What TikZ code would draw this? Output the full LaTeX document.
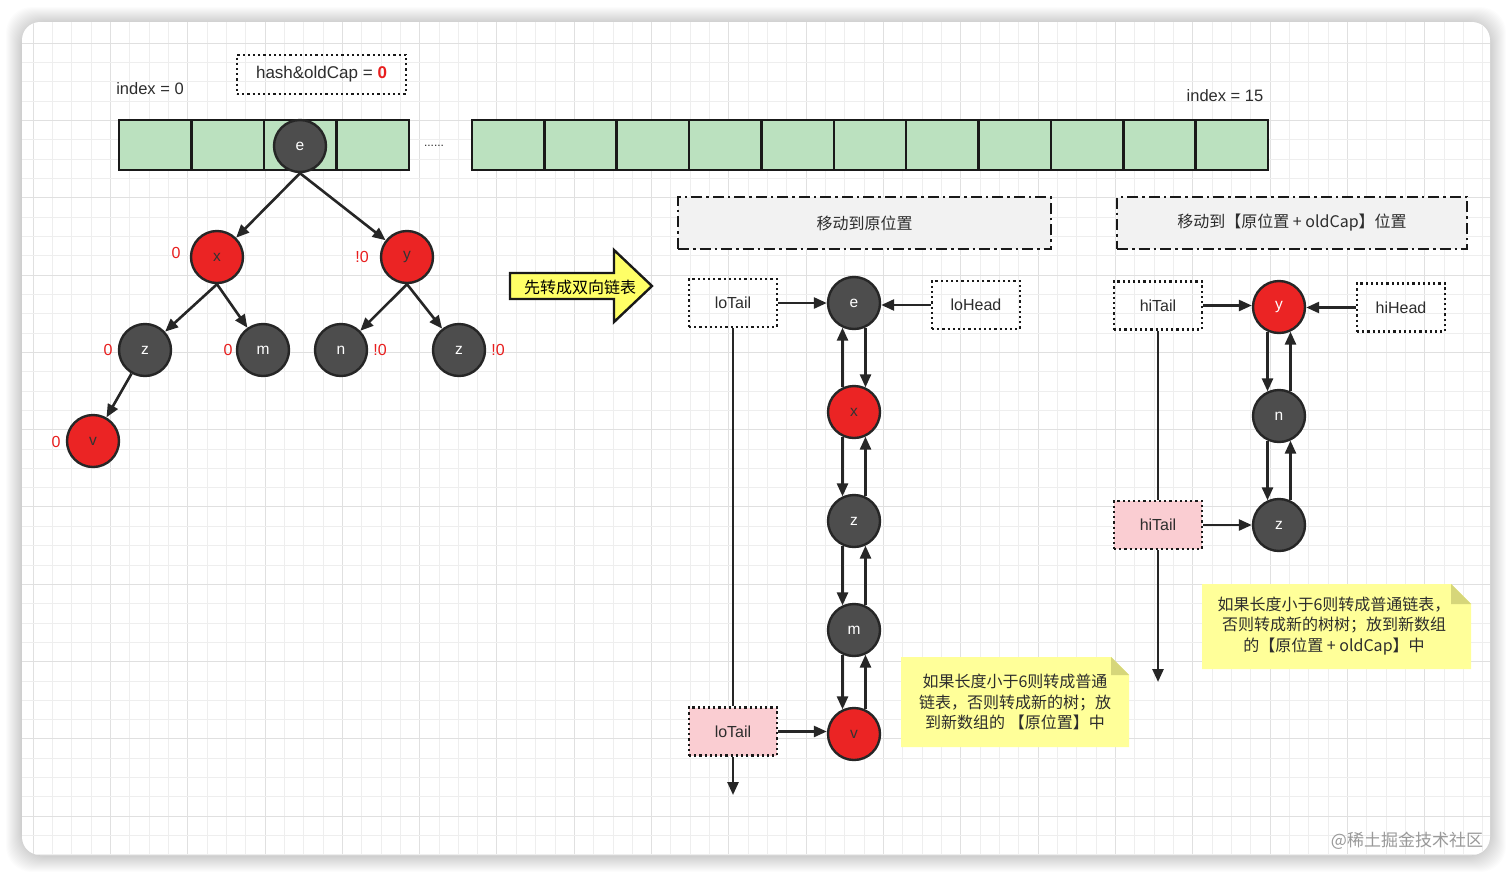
\documentclass[tikz,border=0pt]{standalone}
\usepackage{fontspec}
\setmainfont{Liberation Sans}
\newfontfamily\cjk{Noto Sans CJK SC}
\usetikzlibrary{arrows.meta,calc}
\definecolor{gridminor}{RGB}{238,238,238}
\definecolor{gridmajor}{RGB}{224,224,224}
\definecolor{cellg}{RGB}{187,225,191}
\definecolor{nodered}{RGB}{235,36,36}
\definecolor{nodedark}{RGB}{77,77,77}
\definecolor{hdrg}{RGB}{242,242,242}
\definecolor{pinkc}{RGB}{250,205,210}
\definecolor{notey}{RGB}{255,255,153}
\definecolor{foldc}{RGB}{214,214,122}
\definecolor{arrowy}{RGB}{255,255,102}
\definecolor{labred}{RGB}{232,30,30}
\definecolor{txtc}{RGB}{45,45,45}
\begin{document}
\begin{tikzpicture}[x=1pt,y=-1pt,
  dnode/.style={circle, draw=black!85, line width=2.4pt, fill=nodedark, minimum size=52pt, inner sep=0pt, text=white, font=\fontsize{15.5}{17}\selectfont},
  rnode/.style={dnode, fill=nodered, text=black!80},
  rnodew/.style={dnode, fill=nodered, text=white},
  ptr/.style={draw=black!90, line width=2.5pt, dash pattern=on 2.2pt off 3pt, minimum width=88pt, minimum height=48pt, inner sep=0pt, font=\fontsize{16}{19}\selectfont, text=txtc},
  ptrpink/.style={ptr, fill=pinkc},
  cell/.style={draw=black!90, line width=2.5pt, fill=cellg, minimum width=72.4pt, minimum height=50pt, inner sep=0pt},
  conn/.style={line width=2.6pt, draw=black!85, -{Triangle[length=13pt,width=11pt]}},
  plain/.style={line width=2.6pt, draw=black!85},
  zlab/.style={text=labred, font=\fontsize{16}{19}\selectfont},
  txt/.style={text=txtc, font=\fontsize{16.5}{19}\selectfont},
  hdr/.style={draw=black!90, line width=2.8pt, dash pattern=on 11pt off 4pt on 2.5pt off 4pt, fill=hdrg, minimum height=52pt, text=txtc, font=\cjk\fontsize{16}{19}\selectfont},
  notetxt/.style={align=center, text=txtc, font=\cjk\fontsize{16}{20.5}\selectfont}
]
\useasboundingbox (0,0) rectangle (1512,876);
\fill[white] (0,0) rectangle (1512,876);
% shadow
\foreach \i in {1,...,16} {
  \fill[black, opacity=0.011, rounded corners=26pt] ({22-\i},{22-\i+1}) rectangle ({1490+\i},{855+\i+1});
}
\fill[white, rounded corners=18pt] (22,22) rectangle (1490,855);
\begin{scope}
  \clip[rounded corners=18pt] (22,22) rectangle (1490,855);
  \foreach \k in {0,...,75} {
    \pgfmathtruncatemacro{\m}{mod(\k,4)}
    \ifnum\m=0 \draw[gridmajor, line width=0.9pt] ({33+\k*19.33},22) -- ({33+\k*19.33},855);
    \else \draw[gridminor, line width=0.8pt] ({33+\k*19.33},22) -- ({33+\k*19.33},855); \fi
  }
  \foreach \k in {0,...,42} {
    \pgfmathtruncatemacro{\m}{mod(\k,4)}
    \ifnum\m=0 \draw[gridmajor, line width=0.9pt] (22,{43+\k*19.33}) -- (1490,{43+\k*19.33});
    \else \draw[gridminor, line width=0.8pt] (22,{43+\k*19.33}) -- (1490,{43+\k*19.33}); \fi
  }
\end{scope}

% arrays
\foreach \i in {0,...,3} { \node[cell] (a\i) at ({155.25+72.5*\i},145) {}; }
\foreach \i in {0,...,10} { \node[cell] (b\i) at ({508.2+72.36*\i},145) {}; }
\node[txt] (i0) at (150,89) {index = 0};
\node[txt] (i15) at (1225,96) {index = 15};
\node[ptr, minimum width=169pt, minimum height=39pt, font=\fontsize{17}{19}\selectfont] (hash) at (321.5,74.5) {hash\&oldCap = \textcolor{labred}{\textbf{0}}};
\node[text=txtc, font=\fontsize{12}{14}\selectfont] (dots) at (434,146) {......};

% tree
\node[dnode] (e) at (300,146) {e};
\node[rnode] (x) at (217,257) {x};
\node[rnode] (y) at (407,257) {y};
\node[dnode] (z1) at (145,350) {z};
\node[dnode] (m) at (263,350) {m};
\node[dnode] (n) at (341,350) {n};
\node[dnode] (z2) at (459,350) {z};
\node[rnode] (v) at (93,441) {v};
\draw[conn] (e.south) -- (x);
\draw[conn] (e.south) -- (y);
\draw[conn] (x.south) -- (z1);
\draw[conn] (x.south) -- (m);
\draw[conn] (y.south) -- (n);
\draw[conn] (y.south) -- (z2);
\draw[conn] (z1) -- (v);
\node[zlab] (lx) at (176,253) {0};
\node[zlab] (ly) at (362,257) {!0};
\node[zlab] (lz1) at (108,350) {0};
\node[zlab] (lm) at (228,350) {0};
\node[zlab] (ln) at (380,350) {!0};
\node[zlab] (lz2) at (498,350) {!0};
\node[zlab] (lv) at (56,442) {0};

% block arrow
\filldraw[fill=arrowy, draw=black!90, line width=2.4pt, line join=miter] (510,273) -- (614,273) -- (614,250) -- (652,286) -- (614,322) -- (614,299) -- (510,299) -- cycle;
\node[text=black, font=\cjk\fontsize{16}{19}\selectfont] (conv) at (580,287) {先转成双向链表};

% headers
\node[hdr, minimum width=373pt] (hlo) at (864.5,223) {移动到原位置};
\node[hdr, minimum width=350pt] (hhi) at (1292,223) {移动到【原位置 + oldCap】位置};

% lo list
\node[dnode] (le) at (854,303) {e};
\node[rnode] (lxx) at (854,412) {x};
\node[dnode] (lzz) at (854,521) {z};
\node[dnode] (lmm) at (854,630) {m};
\node[rnode] (lvv) at (854,734) {v};
\node[ptr] (lotail) at (733,303) {loTail};
\node[ptr] (lohead) at (976,305) {loHead};
\node[ptrpink] (lotail2) at (733,731.5) {loTail};
\coordinate (loend) at (733,795);
\draw[conn] (lotail.east) -- (le.west);
\draw[conn] (lohead.west) -- (le.east |- lohead.west);
\draw[plain] (lotail.south) -- (lotail2.north);
\draw[conn] (lotail2.south) -- (loend);
\draw[conn] (lotail2.east) -- (lvv.west |- lotail2.east);
\draw[conn] (le.295) -- (lxx.65);
\draw[conn] (lxx.115) -- (le.245);
\draw[conn] (lxx.245) -- (lzz.115);
\draw[conn] (lzz.65) -- (lxx.295);
\draw[conn] (lzz.245) -- (lmm.115);
\draw[conn] (lmm.65) -- (lzz.295);
\draw[conn] (lmm.245) -- (lvv.115);
\draw[conn] (lvv.65) -- (lmm.295);

% hi list
\node[rnodew] (hy) at (1279,307) {y};
\node[dnode] (hn) at (1279,416) {n};
\node[dnode] (hz) at (1279,525) {z};
\node[ptr] (hitail) at (1158,305.5) {hiTail};
\node[ptr] (hihead) at (1401,307.5) {hiHead};
\node[ptrpink] (hitail2) at (1158,525) {hiTail};
\coordinate (hiend) at (1158,682);
\draw[conn] (hitail.east) -- (hy.west |- hitail.east);
\draw[conn] (hihead.west) -- (hy.east |- hihead.west);
\draw[plain] (hitail.south) -- (hitail2.north);
\draw[conn] (hitail2.south) -- (hiend);
\draw[conn] (hitail2.east) -- (hz.west);
\draw[conn] (hy.245) -- (hn.115);
\draw[conn] (hn.65) -- (hy.295);
\draw[conn] (hn.245) -- (hz.115);
\draw[conn] (hz.65) -- (hn.295);

% notes
\fill[notey] (901,657) -- (1111,657) -- (1129,675) -- (1129,747) -- (901,747) -- cycle;
\fill[foldc] (1111,657) -- (1129,675) -- (1111,675) -- cycle;
\node[notetxt] (lonote) at (1015,702) {如果长度小于6则转成普通\\链表，否则转成新的树；放\\到新数组的 【原位置】中};
\fill[notey] (1202,584) -- (1451,584) -- (1471,604) -- (1471,669) -- (1202,669) -- cycle;
\fill[foldc] (1451,584) -- (1471,604) -- (1451,604) -- cycle;
\node[notetxt] (hinote) at (1334,626) {如果长度小于6则转成普通链表，\\否则转成新的树树；放到新数组\\的【原位置 + oldCap】中};

% watermark
\node[text=black!40, font=\cjk\fontsize{17}{20}\selectfont] (wm) at (1407,841) {@稀土掘金技术社区};
\end{tikzpicture}
\end{document}
